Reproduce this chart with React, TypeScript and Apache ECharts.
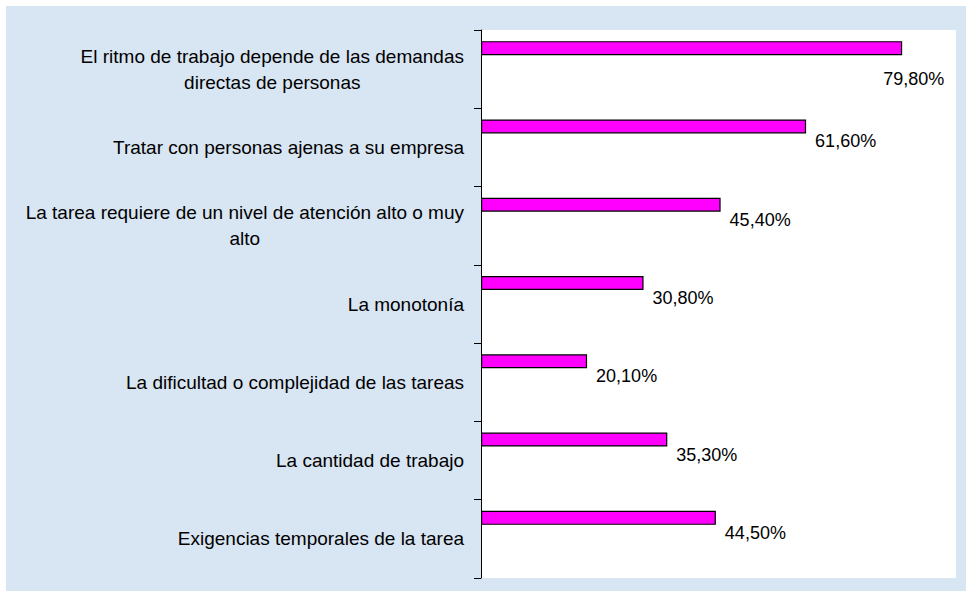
import React, { useEffect, useRef } from "react";
import * as echarts from "echarts";

const categories: string[] = [
  "El ritmo de trabajo depende de las demandas\ndirectas de personas",
  "Tratar con personas ajenas a su empresa",
  "La tarea requiere de un nivel de atención alto o muy\nalto",
  "La monotonía",
  "La dificultad o complejidad de las tareas",
  "La cantidad de trabajo",
  "Exigencias temporales de la tarea",
];
const values: number[] = [79.8, 61.6, 45.4, 30.8, 20.1, 35.3, 44.5];
const axisMax = 90;

const fmtPct = (v: number) => v.toFixed(2).replace(".", ",") + "%";

export default function App() {
  const ref = useRef<HTMLDivElement>(null);
  useEffect(() => {
    document.body.style.margin = "0";
    const chart = echarts.init(ref.current!, undefined, { renderer: "svg" });
    const font = "'Liberation Sans', Arial, sans-serif";
    chart.setOption({
      animation: false,
      backgroundColor: "#ffffff",
      graphic: [
        {
          type: "rect",
          z: -10,
          silent: true,
          shape: { x: 6, y: 6, width: 960, height: 585 },
          style: { fill: "#d8e5f3" },
        },
      ],
      grid: {
        left: 481,
        right: 10,
        top: 30,
        bottom: 13,
        show: true,
        backgroundColor: "#ffffff",
        borderWidth: 0,
        containLabel: false,
      },
      xAxis: {
        type: "value",
        min: 0,
        max: axisMax,
        show: false,
        splitLine: { show: false },
      },
      yAxis: {
        type: "category",
        inverse: true,
        data: categories,
        axisLine: { show: true, lineStyle: { color: "#000", width: 1 } },
        axisTick: { show: true, length: 7, lineStyle: { color: "#000" } },
        axisLabel: {
          margin: 17,
          color: "#000",
          fontFamily: font,
          fontSize: 19,
          align: "right",
          formatter: (v: string) =>
            v
              .split("\n")
              .map((l) => "{c|" + l + "}")
              .join("\n"),
          rich: {
            c: {
              align: "center",
              fontFamily: font,
              fontSize: 19,
              lineHeight: 26,
              color: "#000",
            },
          },
        },
      },
      series: [
        {
          type: "bar",
          barWidth: 14,
          barGap: "200%",
          data: values.map((v, i) => ({
            value: v,
            label: i === 0 ? { offset: [-28, 31] } : undefined,
          })),
          itemStyle: { color: "#ff00ff", borderColor: "#000", borderWidth: 1.2 },
          label: {
            show: true,
            position: "right",
            distance: 9,
            offset: [0, 15],
            color: "#000",
            fontFamily: font,
            fontSize: 18,
            formatter: (p: any) => fmtPct(p.value),
          },
        },
        {
          type: "bar",
          barWidth: 14,
          barGap: "200%",
          data: values.map(() => null),
          itemStyle: { color: "transparent" },
          silent: true,
        },
      ],
    });
    return () => chart.dispose();
  }, []);
  return <div ref={ref} style={{ width: 966, height: 591 }} />;
}
